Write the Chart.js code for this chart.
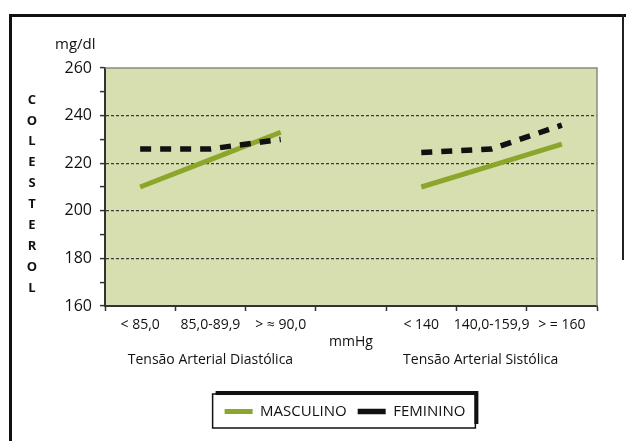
<!DOCTYPE html>
<html>
<head>
<meta charset="utf-8">
<script src="https://cdn.jsdelivr.net/npm/chart.js@4"></script>
<style>
  html, body { margin: 0; padding: 0; background: #fff; }
  #wrap { position: relative; width: 626px; height: 441px; }
  #frame { position: absolute; left: 9px; top: 14px; width: 620px; height: 440px;
           border-left: 3px solid #111; border-top: 3px solid #111; }
  #frameRight { position: absolute; left: 622px; top: 14px; width: 2px; height: 246px; background: #222; }
  canvas { position: absolute; left: 0; top: 0; }
</style>
</head>
<body>
<div id="wrap">
  <div id="frame"></div>
  <div id="frameRight"></div>
  <canvas id="chart" width="626" height="441"></canvas>
</div>
<script>
// categories (middle slot is the gap between the two groups, labelled mmHg)
const categories = [
  ["< 85,0"],
  ["85,0-89,9", "", "Tensão Arterial Diastólica"],
  ["> ≈ 90,0"],
  ["", "mmHg"],
  ["< 140"],
  ["140,0-159,9", "", "Tensão Arterial Sistólica      "],
  ["> = 160"],
];

const masculino = [210, 221.5, 233, null, 210, 219, 228];
const feminino = [226, 226, 230, null, 224.5, 226, 236];

const yMin = 160;
const yMax = 260;
const yStep = 10;
const yLabelEvery = 20;

const yTitle = "COLESTEROL";
const yUnit = "mg/dl";

const FONT = "'Open Sans', 'DejaVu Sans', sans-serif";

// plot background, frame and the stacked axis title
const decorations = {
  id: "decorations",
  afterUpdate(chart) {
    // legend sits roughly under the middle of the plot, not of the whole canvas
    const legend = chart.legend;
    const target = (chart.chartArea.left + chart.chartArea.right) / 2 - 6;
    const shift = target - (legend.left + legend.right) / 2;
    legend.left += shift;
    legend.right += shift;
    (legend.legendHitBoxes || []).forEach((b) => { b.left += shift; });
  },
  beforeDraw(chart) {
    const { ctx, chartArea: a } = chart;
    ctx.save();
    ctx.fillStyle = "#d7deb0";
    ctx.fillRect(a.left, a.top, a.width, a.height);
    ctx.restore();
  },
  afterDraw(chart) {
    const { ctx, chartArea: a, legend } = chart;
    ctx.save();
    ctx.strokeStyle = "#8a8a80";
    ctx.lineWidth = 1.5;
    ctx.beginPath();
    ctx.moveTo(a.left, a.top);
    ctx.lineTo(a.right, a.top);
    ctx.lineTo(a.right, a.bottom);
    ctx.stroke();

    ctx.fillStyle = "#111";
    ctx.font = "15px " + FONT;
    ctx.textAlign = "left";
    ctx.textBaseline = "middle";
    ctx.fillText(yUnit, a.left - 50, a.top - 23);

    ctx.font = "bold 13px " + FONT;
    ctx.textAlign = "center";
    const letters = yTitle.split("");
    const step = (a.height - 50) / (letters.length - 1);
    letters.forEach((ch, i) => {
      ctx.fillText(ch, a.left - 73, a.top + 32 + i * step);
    });

    // box round the legend items
    const boxes = legend.legendHitBoxes;
    if (boxes && boxes.length) {
      const l = Math.min(...boxes.map((b) => b.left)) - 12;
      const r = Math.max(...boxes.map((b) => b.left + b.width)) + 10;
      const t = Math.min(...boxes.map((b) => b.top)) - 10;
      const btm = Math.max(...boxes.map((b) => b.top + b.height)) + 9;
      ctx.strokeStyle = "#111";
      ctx.lineWidth = 1.5;
      ctx.strokeRect(l, t, r - l, btm - t);
      ctx.lineWidth = 4;
      ctx.beginPath();
      ctx.moveTo(l + 3, t - 1);
      ctx.lineTo(r + 1, t - 1);
      ctx.lineTo(r + 1, btm - 4);
      ctx.stroke();
    }
    ctx.restore();
  },
};

new Chart(document.getElementById("chart"), {
  type: "line",
  data: {
    labels: categories,
    datasets: [
      {
        label: "MASCULINO",
        data: masculino,
        borderColor: "#8ca62c",
        backgroundColor: "#8ca62c",
        borderWidth: 5,
        pointRadius: 0,
        pointStyle: "line",
        spanGaps: false,
        order: 0,
      },
      {
        label: "FEMININO",
        data: feminino,
        borderColor: "#111",
        backgroundColor: "#111",
        borderWidth: 5.5,
        borderDash: [11, 9],
        pointRadius: 0,
        pointStyle: "line",
        spanGaps: false,
        order: -1,
      },
    ],
  },
  options: {
    responsive: false,
    animation: false,
    layout: { padding: { left: 50, right: 29, top: 68, bottom: 12 } },
    plugins: {
      tooltip: { enabled: false },
      legend: {
        position: "bottom",
        labels: {
          color: "#111",
          font: { family: FONT, size: 15 },
          usePointStyle: true,
          boxWidth: 28,
          pointStyleWidth: 28,
          padding: 11,
          sort: (a, b) => a.datasetIndex - b.datasetIndex,
        },
      },
    },
    scales: {
      x: {
        offset: true,
        afterFit: (scale) => { scale.height = 87; },
        grid: { offset: true, color: "transparent", tickColor: "#333", tickLength: 5, tickWidth: 1.5 },
        border: { color: "#333", width: 2 },
        ticks: {
          color: "#111",
          font: { family: FONT, size: 14, lineHeight: 1.25 },
          maxRotation: 0,
          minRotation: 0,
          autoSkip: false,
          padding: 5,
        },
      },
      y: {
        min: yMin,
        max: yMax,
        afterFit: (scale) => { scale.width = 55; },
        grid: {
          color: (c) => {
            const v = c.tick && c.tick.value;
            return v % yLabelEvery === 0 && v !== yMin && v !== yMax ? "#3a3a3a" : "transparent";
          },
          tickColor: "#333",
          tickLength: 5,
          tickWidth: 1.5,
          lineWidth: 1.2,
        },
        border: { color: "#333", width: 2, dash: [3, 2] },
        ticks: {
          stepSize: yStep,
          autoSkip: false,
          color: "#111",
          font: { family: FONT, size: 16 },
          padding: 8,
          callback: (v) => (v % yLabelEvery === 0 ? v : ""),
        },
      },
    },
  },
  plugins: [decorations],
});
</script>
</body>
</html>
